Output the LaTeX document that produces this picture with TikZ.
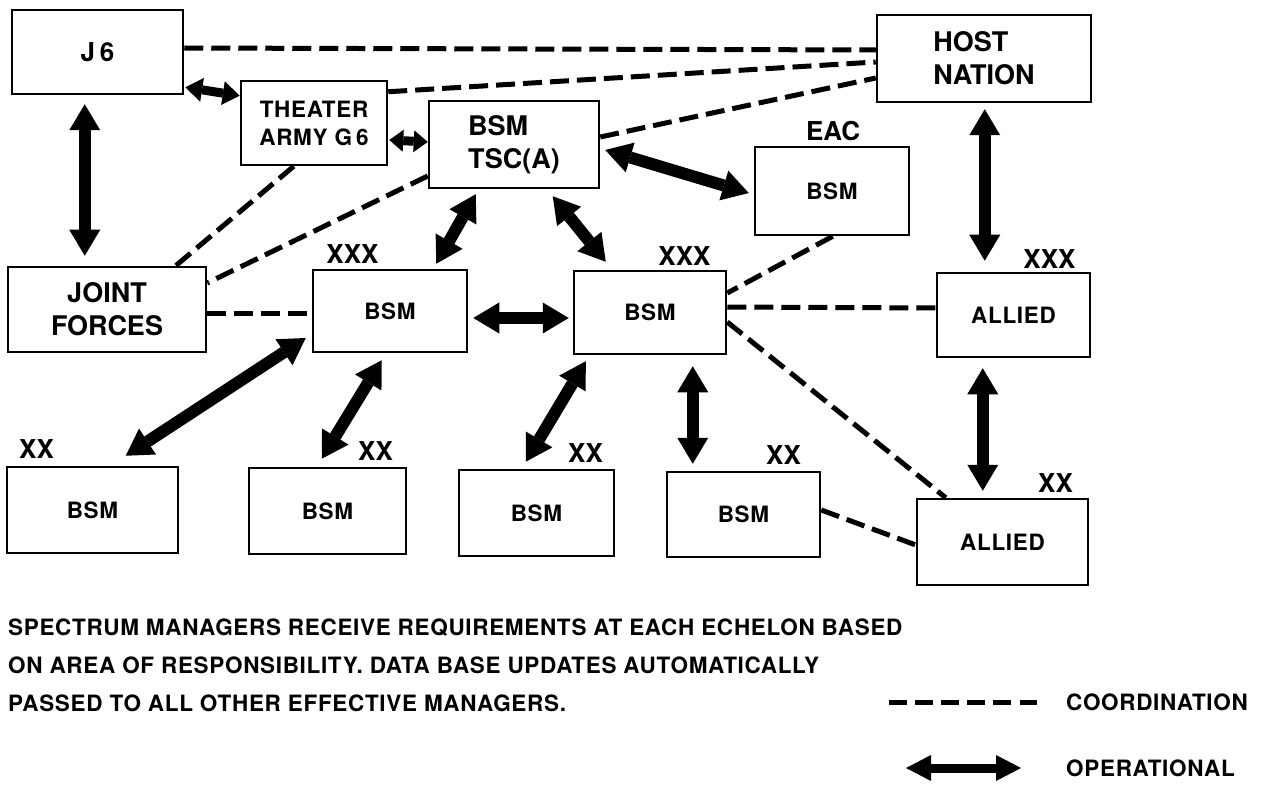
\documentclass[tikz,border=0pt]{standalone}
\usepackage{fontspec}
\setmainfont{TeX Gyre Heros}
\newfontfamily\hvs{TeX Gyre Heros}[LetterSpace=3]
\usetikzlibrary{arrows.meta,calc}
\tikzset{
  box/.style={draw, line width=2.5pt, inner sep=0pt, align=center},
  fnorm/.style={font=\hvs\bfseries\fontsize{22.5}{28}\selectfont},
  fbig/.style={font=\bfseries\fontsize{27}{33}\selectfont},
  fech/.style={font=\bfseries\fontsize{26}{30}\selectfont},
  coord/.style={line width=5pt, dash pattern=on 19pt off 8pt},
  tipbig/.tip={Triangle[width=31pt,length=26pt,line width=0pt]},
  tipsmall/.tip={Triangle[width=24pt,length=17pt,line width=0pt]},
  tiptiny/.tip={Triangle[width=22pt,length=14pt,line width=0pt]},
  tipleg/.tip={Triangle[width=26pt,length=25pt,line width=0pt]},
  op/.style={line width=12pt, tipbig-tipbig},
  opsmall/.style={line width=9pt, tipsmall-tipsmall},
  optiny/.style={line width=9pt, tiptiny-tiptiny},
  ech/.style={fech, inner sep=0pt},
  txt/.style={fnorm, inner sep=0pt, anchor=base west},
}
\begin{document}
\begin{tikzpicture}[x=1pt,y=-1pt]
\useasboundingbox (0,0) rectangle (1266,786);
\fill[white] (0,0) rectangle (1266,786);

% boxes
\node[box,fech,minimum width=171pt,minimum height=84pt] (j6) at (97.5,52) {J\kern5pt 6};
\node[box,fnorm,minimum width=146pt,minimum height=84pt] (th) at (314,123) {THEATER\\ARMY G\kern4pt 6};
\node[box,fbig,align=left,minimum width=170pt,minimum height=87pt] (tsc) at (514,144.5) {BSM\\TSC(A)};
\node[box,fbig,align=left,minimum width=214pt,minimum height=87pt] (host) at (984,58.5) {HOST\\NATION};
\node[box,fnorm,minimum width=154pt,minimum height=88pt] (eac) at (832,191) {BSM};
\node[box,fbig,minimum width=198pt,minimum height=85pt] (jf) at (107,309.5) {JOINT\\FORCES};
\node[box,fnorm,minimum width=154pt,minimum height=82pt] (xl) at (390,311) {BSM};
\node[box,fnorm,minimum width=152pt,minimum height=83pt] (xr) at (650,312.5) {BSM};
\node[box,fnorm,minimum width=153pt,minimum height=84pt] (ax) at (1013.5,315) {ALLIED};
\node[box,fnorm,minimum width=171pt,minimum height=86pt] (b1) at (92.5,510) {BSM};
\node[box,fnorm,minimum width=157pt,minimum height=86pt] (b2) at (327.5,511) {BSM};
\node[box,fnorm,minimum width=155pt,minimum height=86pt] (b3) at (536.5,513) {BSM};
\node[box,fnorm,minimum width=153pt,minimum height=85pt] (b4) at (743.5,514.5) {BSM};
\node[box,fnorm,minimum width=171pt,minimum height=86pt] (ay) at (1002.5,542) {ALLIED};

% echelon labels
\node[ech] (lxl) at (352.5,254) {XXX};
\node[ech] (lxr) at (684.5,256) {XXX};
\node[ech] (lax) at (1049.5,259) {XXX};
\node[ech] (leac) at (833,131) {EAC};
\node[ech] (lb1) at (36.5,449) {XX};
\node[ech] (lb2) at (375.5,451.5) {XX};
\node[ech] (lb3) at (585.5,453) {XX};
\node[ech] (lb4) at (783.5,455) {XX};
\node[ech] (lay) at (1055.5,483) {XX};

% coordination (dashed)
\draw[coord] ($(j6.east)+(0,-4)$) -- ($(host.west)+(0,-8.5)$);
\draw[coord] ($(th.north east)+(0,12)$) -- ($(host.west)+(0,3.5)$);
\draw[coord] ($(tsc.east)+(0,-7.5)$) -- ($(host.west)+(0,19.5)$);
\draw[coord] ($(th.south west)+(54,0)$) -- ($(jf.north west)+(169,0)$);
\draw[coord] ($(tsc.west)+(0,31.5)$) -- ($(jf.east)+(0,-26.5)$);
\draw[coord] ($(jf.east)+(0,3.5)$) -- ($(xl.west)+(0,2)$);
\draw[coord] ($(eac.south west)+(79,0)$) -- ($(xr.east)+(0,-19.5)$);
\draw[coord] ($(xr.east)+(0,-5.5)$) -- ($(ax.west)+(0,-7)$);
\draw[coord] ($(xr.east)+(0,9.5)$) -- ($(ay.north west)+(30,0)$);
\draw[coord] ($(b4.east)+(0,-4.5)$) -- ($(ay.west)+(0,3)$);

% operational (double arrows)
\draw[op] ($(j6.south west)+(74,9)$) -- ($(jf.north west)+(78,-10)$);
\draw[opsmall] ($(j6.south east)+(1,-8)$) -- ($(th.north west)+(0,16)$);
\draw[optiny] ($(th.east)+(1,17)$) -- ($(tsc.west)+(0,-2.5)$);
\draw[op] ($(tsc.east)+(5,5.5)$) -- ($(eac.west)+(-5,2)$);
\draw[op] ($(tsc.south west)+(48,5)$) -- ($(xl.north east)+(-32,-5)$);
\draw[op] ($(tsc.south west)+(125,7)$) -- ($(xr.north west)+(33,-8)$);
\draw[op] ($(xl.east)+(5,7)$) -- ($(xr.west)+(-4,5.5)$);
\draw[op] ($(xl.west)+(-6,27)$) -- ($(b1.north west)+(120,-10)$);
\draw[op] ($(xl.south west)+(70,7)$) -- ($(b2.north west)+(74,-8)$);
\draw[op] ($(xr.south west)+(13,6)$) -- ($(b3.north west)+(68,-7)$);
\draw[op] ($(xr.south west)+(120,11)$) -- ($(b4.north west)+(27,-7)$);
\draw[op] ($(host.south west)+(109,6)$) -- ($(ax.north west)+(49,-11)$);
\draw[op] ($(ax.south west)+(47,10)$) -- ($(ay.north west)+(67,-7)$);

% note text
\node[txt] (t1) at (8,635.5) {SPECTRUM MANAGERS RECEIVE REQUIREMENTS AT EACH ECHELON BASED};
\node[txt] (t2) at (8,673.5) {ON AREA OF RESPONSIBILITY. DATA BASE UPDATES AUTOMATICALLY};
\node[txt] (t3) at (8,711.5) {PASSED TO ALL OTHER EFFECTIVE MANAGERS.};

% legend
\coordinate (da) at (889,702);
\coordinate (db) at (1037,702);
\draw[coord, dash pattern=on 17.5pt off 8.6pt] (da) -- (db);
\node[txt] (lc) at (1066,710.5) {COORDINATION};
\coordinate (la) at (906,768);
\coordinate (lb) at (1021,768);
\draw[line width=9pt, tipleg-tipleg] (la) -- (lb);
\node[txt] (lo) at (1066,776) {OPERATIONAL};
\end{tikzpicture}
\end{document}
